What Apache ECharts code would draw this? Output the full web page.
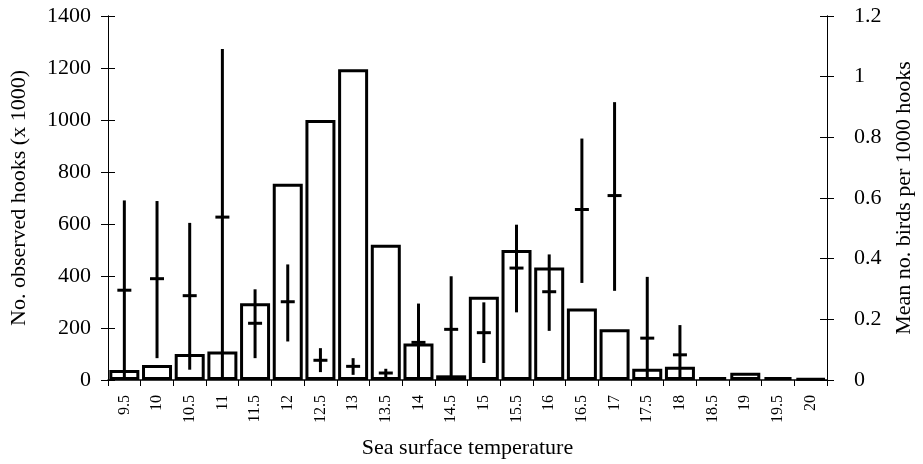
<!DOCTYPE html>
<html>
<head>
<meta charset="utf-8">
<script src="https://cdn.jsdelivr.net/npm/echarts@6/dist/echarts.min.js"></script>
<style>html,body{margin:0;padding:0;background:#fff}#c{width:923px;height:464px}</style>
</head>
<body>
<div id="c"></div>
<script>
const categories = ['9.5','10','10.5','11','11.5','12','12.5','13','13.5','14','14.5','15','15.5','16','16.5','17','17.5','18','18.5','19','19.5','20'];
const hooks = [38,58,100,110,295,755,1000,1195,520,140,18,320,500,433,275,195,43,51,11,28,11,5];
const birdMean = [0.296,0.334,0.278,0.537,0.187,0.258,0.065,0.045,0.023,0.124,0.167,0.156,0.369,0.291,0.562,0.608,0.138,0.083,null,null,null,null];
const birdLow  = [0,0.072,0.034,0,0.072,0.127,0.026,0.017,0.007,0,0,0.056,0.223,0.162,0.320,0.294,0,0,null,null,null,null];
const birdHigh = [0.592,0.590,0.518,1.091,0.299,0.381,0.105,0.072,0.037,0.252,0.342,0.256,0.512,0.414,0.796,0.916,0.340,0.181,null,null,null,null];
const leftTicks = [0,1400,200];
const rightTicks = [0,1.2,0.2];

const FONT = 'Liberation Serif';
const chart = echarts.init(document.getElementById('c'), null, {renderer:'canvas'});

const errData = [];
categories.forEach((c,i)=>{ if(birdMean[i]!=null) errData.push([i, birdLow[i], birdHigh[i], birdMean[i]]); });

function yAx(pos, mm, withLabels, inside, name, gap){
  return {
    type:'value', position:pos, min:mm[0], max:mm[1], interval:mm[2],
    name: name||'', nameLocation:'middle', nameGap: gap||0, nameRotate: 90,
    nameTextStyle:{fontFamily:FONT, fontSize:22, color:'#000'},
    axisLine:{show:true, lineStyle:{color:'#000', width:1}},
    axisTick:{show:true, inside:inside, length:7, lineStyle:{color:'#000', width:1}},
    axisLabel:{show:withLabels, fontFamily:FONT, fontSize:22, color:'#000',
      margin: pos==='left'?17:27, formatter:function(v){return String(Math.round(v*100)/100);}},
    splitLine:{show:false}
  };
}

chart.setOption({
  animation:false,
  backgroundColor:'#fff',
  grid:{left:106, right:83, top:16, bottom:82, containLabel:false},
  xAxis:{
    type:'category', data:categories, boundaryGap:true,
    name:'Sea surface temperature', nameLocation:'middle', nameGap:57,
    nameTextStyle:{fontFamily:FONT, fontSize:22, color:'#000'},
    axisLine:{lineStyle:{color:'#000', width:1.5}},
    axisTick:{show:true, length:6, lineStyle:{color:'#000'}},
    axisLabel:{rotate:90, fontFamily:FONT, fontSize:16, color:'#000', margin:15, interval:0}
  },
  yAxis:[
    yAx('left', leftTicks, true, false, 'No. observed hooks (x 1000)', 78),
    yAx('right', rightTicks, true, false, 'Mean no. birds per 1000 hooks', 66),
    yAx('left', leftTicks, false, true),
    yAx('right', rightTicks, false, true)
  ],
  series:[
    {
      type:'bar', yAxisIndex:0, data:hooks, barWidth:30,
      itemStyle:{color:'#fff', borderColor:'#000', borderWidth:3},
      z:2
    },
    {
      type:'custom', yAxisIndex:1, data:errData, z:5,
      encode:{x:0, y:[1,2,3]},
      renderItem:function(params, api){
        const i = api.value(0);
        const lo = api.coord([i, api.value(1)]);
        const hi = api.coord([i, api.value(2)]);
        const m = api.coord([i, api.value(3)]);
        return {type:'group', children:[
          {type:'line', shape:{x1:lo[0], y1:lo[1], x2:hi[0], y2:hi[1]}, style:{stroke:'#000', lineWidth:3}},
          {type:'line', shape:{x1:m[0]-7, y1:m[1], x2:m[0]+7, y2:m[1]}, style:{stroke:'#000', lineWidth:3}}
        ]};
      }
    }
  ]
});
</script>
</body>
</html>
